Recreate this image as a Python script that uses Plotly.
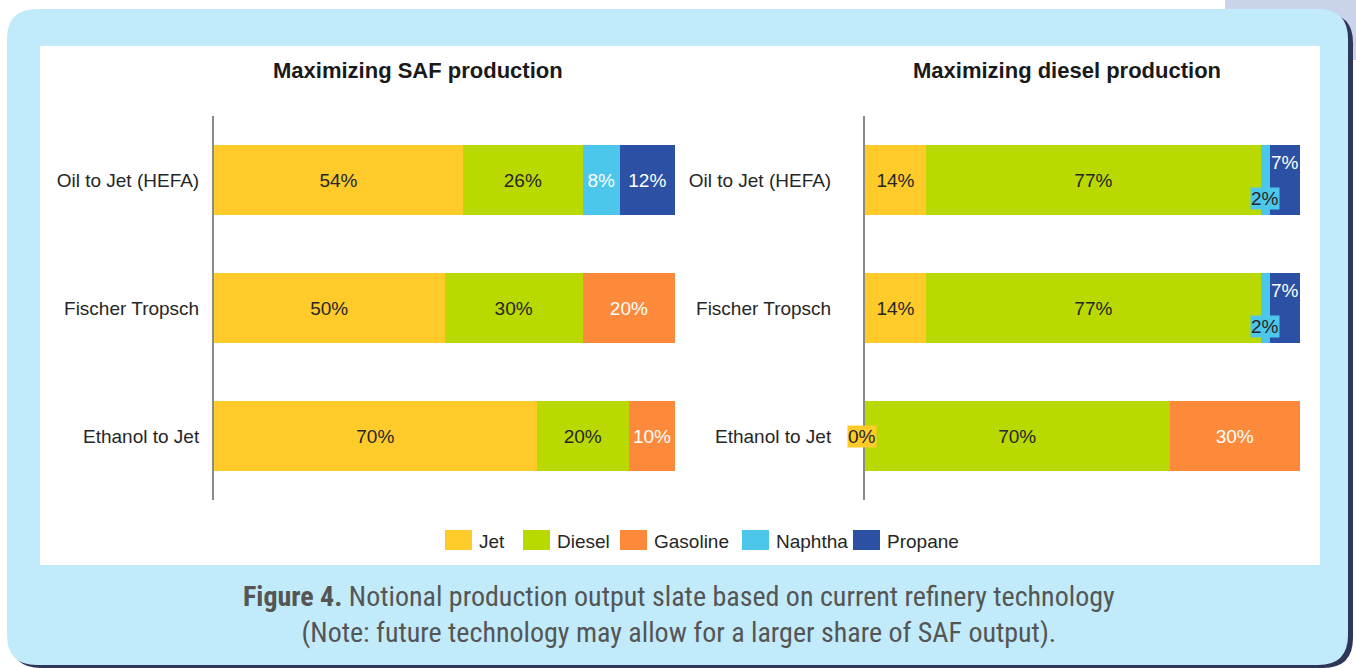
import plotly.graph_objects as go

W, H = 1356, 668

categories = ["Oil to Jet (HEFA)", "Fischer Tropsch", "Ethanol to Jet"]
products = ["Jet", "Diesel", "Gasoline", "Naphtha", "Propane"]
colors = ["#fecb2b", "#bad900", "#fd8a3b", "#4cc7eb", "#2c51a4"]

saf_values = {
    "Jet": [54, 50, 70],
    "Diesel": [26, 30, 20],
    "Gasoline": [0, 20, 10],
    "Naphtha": [8, 0, 0],
    "Propane": [12, 0, 0],
}
diesel_values = {
    "Jet": [14, 14, 0],
    "Diesel": [77, 77, 70],
    "Gasoline": [0, 0, 30],
    "Naphtha": [2, 2, 0],
    "Propane": [7, 7, 0],
}
text_colors = {"Jet": "#262626", "Diesel": "#262626", "Gasoline": "#ffffff",
               "Naphtha": "#ffffff", "Propane": "#ffffff"}

FONT = "Liberation Sans, Arial, sans-serif"
LBL = 19

# legend layout (pixel positions of swatches, a layout detail)
legend_swatch_x = [445, 523, 620, 742, 853]


def px(x):
    return x / W


def py(y):
    return 1 - y / H


def rrect(x0, y0, x1, y1, r):
    X = lambda v: f"{px(v):.5f}"
    Y = lambda v: f"{py(v):.5f}"
    return (f"M {X(x0 + r)},{Y(y0)} L {X(x1 - r)},{Y(y0)} Q {X(x1)},{Y(y0)} {X(x1)},{Y(y0 + r)} "
            f"L {X(x1)},{Y(y1 - r)} Q {X(x1)},{Y(y1)} {X(x1 - r)},{Y(y1)} "
            f"L {X(x0 + r)},{Y(y1)} Q {X(x0)},{Y(y1)} {X(x0)},{Y(y1 - r)} "
            f"L {X(x0)},{Y(y0 + r)} Q {X(x0)},{Y(y0)} {X(x0 + r)},{Y(y0)} Z")


fig = go.Figure()

for i, p in enumerate(products):
    vals = saf_values[p]
    fig.add_trace(go.Bar(
        y=categories, x=vals, orientation="h", name=p,
        marker=dict(color=colors[i], line=dict(width=0)),
        text=[f"{v}%" if v > 0 else "" for v in vals],
        textposition="inside", insidetextanchor="middle", textangle=0,
        textfont=dict(color=text_colors[p], size=LBL, family=FONT),
        xaxis="x", yaxis="y", showlegend=False, hoverinfo="skip",
    ))
for i, p in enumerate(products):
    vals = diesel_values[p]
    txt = [f"{v}%" if (v > 0 and p in ("Jet", "Diesel", "Gasoline")) else "" for v in vals]
    fig.add_trace(go.Bar(
        y=categories, x=vals, orientation="h", name=p,
        marker=dict(color=colors[i], line=dict(width=0)),
        text=txt,
        textposition="inside", insidetextanchor="middle", textangle=0,
        textfont=dict(color=text_colors[p], size=LBL, family=FONT),
        xaxis="x2", yaxis="y2", showlegend=False, hoverinfo="skip",
    ))

annotations = []
# small-segment labels on the diesel chart
for ci, cat in enumerate(categories):
    jet = diesel_values["Jet"][ci]
    dsl = diesel_values["Diesel"][ci]
    gas = diesel_values["Gasoline"][ci]
    nap = diesel_values["Naphtha"][ci]
    pro = diesel_values["Propane"][ci]
    if pro > 0:
        annotations.append(dict(x=jet + dsl + gas + nap + pro / 2, y=cat, xref="x2", yref="y2",
                                text=f"{pro}%", showarrow=False, yshift=18,
                                xanchor="center", yanchor="middle",
                                font=dict(color="#ffffff", size=LBL, family=FONT)))
    if nap > 0:
        annotations.append(dict(x=jet + dsl + gas + nap / 2, y=cat, xref="x2", yref="y2",
                                text=f"{nap}%", showarrow=False, yshift=-18, bgcolor=colors[3],
                                borderpad=0, xanchor="center", yanchor="middle",
                                font=dict(color="#262626", size=LBL, family=FONT)))
    if jet == 0:
        annotations.append(dict(x=0, y=cat, xref="x2", yref="y2",
                                text=f"{jet}%", showarrow=False, xshift=-3, bgcolor=colors[0],
                                borderpad=0, xanchor="center", yanchor="middle",
                                font=dict(color="#262626", size=LBL, family=FONT)))

annotations += [
    dict(x=px(418), y=py(70), xref="paper", yref="paper", text="<b>Maximizing SAF production</b>",
         showarrow=False, xanchor="center", yanchor="middle",
         font=dict(size=22, color="#1a1a1a", family=FONT)),
    dict(x=px(1067), y=py(70), xref="paper", yref="paper", text="<b>Maximizing diesel production</b>",
         showarrow=False, xanchor="center", yanchor="middle",
         font=dict(size=22, color="#1a1a1a", family=FONT)),
    dict(x=px(679), y=py(614), xref="paper", yref="paper",
         text="<b>Figure 4.</b> Notional production output slate based on current refinery technology"
              "<br>(Note: future technology may allow for a larger share of SAF output).",
         showarrow=False, align="center", xanchor="center", yanchor="middle",
         font=dict(size=28, color="#555555",
                   family="Liberation Sans Narrow, Roboto Condensed, Roboto, sans-serif")),
]

shapes = [
    dict(type="rect", xref="paper", yref="paper", x0=px(1225), x1=px(1356), y0=py(60), y1=py(0),
         fillcolor="#c9d4ea", line=dict(width=0), layer="below"),
    dict(type="path", xref="paper", yref="paper", path=rrect(11, 13, 1353, 668, 30),
         fillcolor="#2f3759", line=dict(width=0), layer="below"),
    dict(type="path", xref="paper", yref="paper", path=rrect(7, 9, 1348, 665, 30),
         fillcolor="#c1ebfa", line=dict(width=0), layer="below"),
    dict(type="rect", xref="paper", yref="paper", x0=px(40), x1=px(1320), y0=py(565), y1=py(46),
         fillcolor="#ffffff", line=dict(width=0), layer="below"),
]

# manual legend with large swatches
for i, p in enumerate(products):
    sx = legend_swatch_x[i]
    shapes.append(dict(type="rect", xref="paper", yref="paper", x0=px(sx), x1=px(sx + 27),
                       y0=py(550), y1=py(530), fillcolor=colors[i], line=dict(width=0)))
    annotations.append(dict(x=px(sx + 32), y=py(541), xref="paper", yref="paper", text=p,
                            showarrow=False, xanchor="left", yanchor="middle",
                            font=dict(size=LBL, color="#262626", family=FONT)))

ydom = [py(500), py(116)]
axis_common_y = dict(type="category", categoryorder="array", categoryarray=categories,
                     range=[2.5, -0.5], domain=ydom, showline=True, linecolor="#8a8a8a",
                     linewidth=2, showgrid=False, ticks="", zeroline=False, automargin=False,
                     tickfont=dict(size=LBL, color="#262626", family=FONT), fixedrange=True)

fig.update_layout(
    width=W, height=H, margin=dict(l=0, r=0, t=0, b=0, autoexpand=False),
    paper_bgcolor="#ffffff", plot_bgcolor="rgba(0,0,0,0)",
    barmode="stack", bargap=1 - 70 / 128, showlegend=False,
    xaxis=dict(domain=[px(214), px(675)], range=[0, 100], visible=False, fixedrange=True),
    xaxis2=dict(domain=[px(865), px(1300)], range=[0, 100], visible=False, fixedrange=True, anchor="y2"),
    yaxis=dict(**axis_common_y, anchor="x", ticklabelstandoff=9),
    yaxis2=dict(**axis_common_y, anchor="x2", ticklabelstandoff=28),
    annotations=annotations, shapes=shapes,
    uniformtext=dict(minsize=LBL, mode="show"),
)

fig.write_html("out.html", config={"displayModeBar": False},
               post_script="document.body.style.margin='0';document.body.style.padding='0';")
